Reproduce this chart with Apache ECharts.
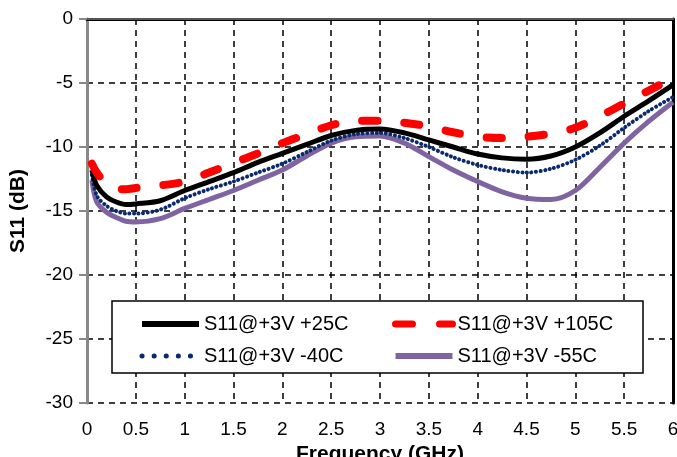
<!DOCTYPE html>
<html>
<head>
<meta charset="utf-8">
<script src="https://cdn.jsdelivr.net/npm/echarts@6/dist/echarts.min.js"></script>
<style>
  html, body { margin: 0; padding: 0; background: #fff; }
  #chart { width: 677px; height: 457px; }
</style>
</head>
<body>
<div id="chart"></div>
<script>
// frequency points (GHz)
var freq = [0.05, 0.1, 0.2, 0.3, 0.4, 0.5, 0.75, 1, 1.25, 1.5, 1.75, 2, 2.25, 2.5, 2.75, 3, 3.25, 3.5, 3.75, 4, 4.25, 4.5, 4.75, 5, 5.25, 5.5, 5.75, 6];

// S11 (dB) for each temperature
var s11_25C  = [-11.8, -13.0, -13.9, -14.3, -14.5, -14.45, -14.2, -13.4, -12.7, -12.0, -11.2, -10.5, -9.8, -9.1, -8.7, -8.6, -8.9, -9.45, -10.0, -10.55, -10.85, -10.95, -10.7, -10.0, -8.9, -7.6, -6.4, -5.15];
var s11_105C = [-11.3, -12.0, -12.9, -13.3, -13.3, -13.2, -13.0, -12.7, -12.0, -11.25, -10.5, -9.7, -9.0, -8.3, -7.95, -7.95, -8.1, -8.4, -8.85, -9.2, -9.3, -9.2, -8.95, -8.5, -7.6, -6.6, -5.6, -4.6];
var s11_m40C = [-12.2, -13.8, -14.6, -15.0, -15.2, -15.2, -14.9, -14.0, -13.3, -12.7, -12.0, -11.3, -10.4, -9.5, -9.0, -8.9, -9.3, -10.0, -10.8, -11.4, -11.8, -12.0, -11.7, -11.0, -9.9, -8.5, -7.2, -6.1];
var s11_m55C = [-12.6, -14.3, -15.1, -15.5, -15.8, -15.85, -15.6, -14.8, -14.1, -13.4, -12.6, -11.8, -10.7, -9.7, -9.2, -9.15, -9.7, -10.75, -11.8, -12.7, -13.5, -14.0, -14.1, -13.4, -11.6, -9.7, -8.0, -6.5];

var names = ['S11@+3V +25C', 'S11@+3V +105C', 'S11@+3V -40C', 'S11@+3V -55C'];

function pairs(ys) {
  return freq.map(function (f, i) { return [f, ys[i]]; });
}

var font = 'Liberation Sans, Arial, sans-serif';
var chart = echarts.init(document.getElementById('chart'));

var legendCommon = {
  orient: 'vertical',
  top: 309,
  itemWidth: 57, itemHeight: 14, itemGap: 12,
  itemStyle: { opacity: 0 },
  textStyle: { fontSize: 20, color: '#000', fontFamily: font },
  z: 60
};

var option = {
  animation: false,
  backgroundColor: '#fff',
  textStyle: { fontFamily: font },
  grid: { left: 87, right: 4, top: 19, bottom: 54, outerBoundsMode: 'none' },
  graphic: [{
    type: 'rect',
    shape: { x: 112, y: 301, width: 531, height: 72 },
    style: { fill: '#fff', stroke: '#000', lineWidth: 1.5 },
    z: 50
  }],
  legend: [
    Object.assign({
      left: 134,
      data: [
        { name: names[0], lineStyle: { width: 6 } },
        { name: names[2], lineStyle: { width: 5, type: [0.1, 12], cap: 'round' } }
      ]
    }, legendCommon),
    Object.assign({
      left: 387,
      data: [
        { name: names[1], lineStyle: { width: 7, type: [17, 27], cap: 'round' } },
        { name: names[3], lineStyle: { width: 6 } }
      ]
    }, legendCommon)
  ],
  xAxis: [{
    type: 'value',
    min: 0, max: 6, interval: 0.5,
    name: 'Frequency (GHz)',
    nameLocation: 'middle',
    nameGap: 31,
    nameTextStyle: { fontSize: 21, fontWeight: 'bold', color: '#000' },
    axisLine: { lineStyle: { color: '#000', width: 3 } },
    axisTick: { show: false },
    axisLabel: { fontSize: 19, color: '#000', margin: 17 },
    splitLine: { show: true, lineStyle: { color: '#000', width: 1.5, type: [6, 5] } }
  }, {
    type: 'value', position: 'top',
    min: 0, max: 6,
    axisLine: { show: true, onZero: false, lineStyle: { color: '#555', width: 2 } },
    axisTick: { show: false }, axisLabel: { show: false }, splitLine: { show: false }
  }],
  yAxis: [{
    type: 'value',
    min: -30, max: 0, interval: 5,
    name: 'S11 (dB)',
    nameLocation: 'middle',
    nameGap: 58,
    nameTextStyle: { fontSize: 21, fontWeight: 'bold', color: '#000' },
    axisLine: { show: true, onZero: false, lineStyle: { color: '#888', width: 3 } },
    axisTick: { show: true, length: 8, lineStyle: { color: '#888', width: 2 } },
    axisLabel: { fontSize: 19, color: '#000', margin: 14 },
    splitLine: { show: true, lineStyle: { color: '#000', width: 1.5, type: [6, 5] } }
  }, {
    type: 'value', position: 'right',
    min: -30, max: 0,
    axisLine: { show: true, onZero: false, lineStyle: { color: '#000', width: 3 } },
    axisTick: { show: false }, axisLabel: { show: false }, splitLine: { show: false }
  }],
  series: [{
    name: names[0], type: 'line', smooth: 0.3, symbol: 'none', z: 4,
    lineStyle: { color: '#000', width: 5 },
    itemStyle: { color: '#000' },
    data: pairs(s11_25C)
  }, {
    name: names[1], type: 'line', smooth: 0.3, symbol: 'none', z: 5,
    lineStyle: { color: '#ff0000', width: 8, type: [15, 27], cap: 'round' },
    itemStyle: { color: '#ff0000' },
    data: pairs(s11_105C)
  }, {
    name: names[2], type: 'line', smooth: 0.3, symbol: 'none', z: 3,
    lineStyle: { color: '#0a2a6b', width: 4, type: [0.1, 4.5], cap: 'round' },
    itemStyle: { color: '#0a2a6b' },
    data: pairs(s11_m40C)
  }, {
    name: names[3], type: 'line', smooth: 0.3, symbol: 'none', z: 2,
    lineStyle: { color: '#8064a2', width: 5 },
    itemStyle: { color: '#8064a2' },
    data: pairs(s11_m55C)
  }]
};

chart.setOption(option);
</script>
</body>
</html>
